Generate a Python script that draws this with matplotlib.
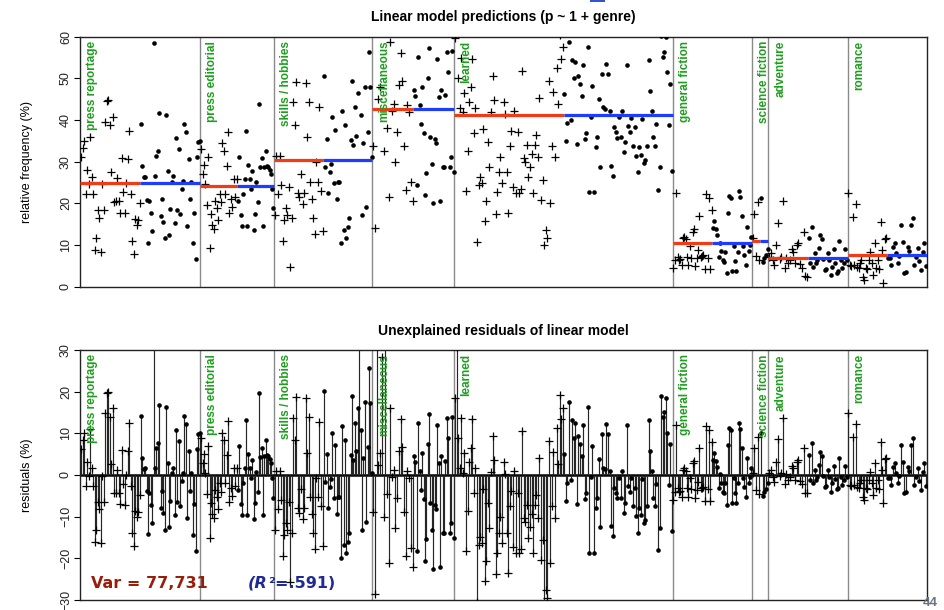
import matplotlib
matplotlib.use("Agg")
import matplotlib.pyplot as plt
from matplotlib.patches import Rectangle
import numpy as np

plt.rcParams['font.family'] = ['Liberation Sans', 'DejaVu Sans']

# ---------------- data ----------------
genres = ["press reportage", "press editorial", "skills / hobbies", "miscellaneous",
          "learned", "general fiction", "science fiction", "adventure", "romance"]
n_texts = [44, 27, 36, 30, 80, 29, 6, 29, 29]
genre_means = [24.8, 24.2, 30.4, 42.6, 41.2, 10.4, 11.0, 6.8, 7.6]

pr_plus = [31.0, 33.2, 35.0, 22.2, 28.0, 24.6, 35.8, 26.4, 22.2, 8.8, 11.6, 18.4, 16.6, 8.4,
           24.6, 18.4, 39.6, 44.6, 44.8, 38.8, 27.4, 40.8, 20.4, 20.6, 26.0, 20.5, 17.8, 30.8,
           22.6, 17.6, 24.8, 30.6, 37.4, 22.2, 11.0, 7.8, 16.2, 14.8, 16.0, 20.0]
pr_dot = [39.0, 29.0, 26.2, 26.4, 20.9, 10.6, 20.6, 17.7, 13.4, 58.5, 26.6, 31.4, 32.6, 41.6,
          17.0, 21.0, 15.6, 11.7, 41.2, 27.8, 12.4, 18.6, 25.2, 26.6, 15.3, 35.7, 18.4, 33.0,
          17.4, 23.4, 25.4, 39.0, 37.0, 14.6, 30.6, 21.0, 25.2, 10.4, 17.8, 6.6, 31.0, 34.6, 35.0]

pe_plus = [33.0, 27.0, 29.2, 24.6, 19.6, 31.2, 9.2, 17.4, 14.8, 13.8, 20.6, 19.0, 16.0, 22.2,
           20.2, 34.4, 32.6, 22.2, 29.0, 37.2, 17.8, 21.0, 19.2, 25.8, 21.6, 25.8]
pe_dot = [20.6, 31.2, 17.2, 14.6, 22.2, 25.9, 37.4, 14.6, 29.3, 25.8, 23.4, 27.8, 13.6, 17.4,
          25.0, 20.2, 43.8, 28.6, 30.8, 14.6, 28.8, 32.6, 29.0, 28.8, 28.0, 27.0, 23.4, 18.8]

sh_plus = [17.2, 31.4, 22.2, 31.4, 24.4, 11.0, 16.0, 19.0, 17.2, 24.0, 4.8, 16.4, 44.2, 38.8,
           49.2, 22.4, 21.4, 27.0, 19.8, 22.4, 48.8, 35.8, 44.4, 25.2, 21.0, 16.4, 12.6, 29.8,
           25.2, 43.2, 23.0, 13.4]
sh_dot = [50.6, 28.8, 35.4, 22.4, 27.6, 29.4, 40.6, 24.8, 37.6, 21.0, 25.2, 25.2, 10.4, 42.2,
          13.6, 38.8, 11.6, 14.4, 16.4, 35.2, 49.4, 34.0, 43.0, 36.2, 46.4, 62.0, 41.2, 17.2,
          34.4, 48.0, 19.2, 37.2, 56.2, 47.8, 31.0]

mi_plus = [33.8, 14.0, 73.5, 45.0, 47.8, 71.0, 32.6, 74.0, 38.0, 21.6, 58.8, 42.2, 43.8, 30.0,
           37.0, 48.4, 56.0, 49.4, 33.8, 23.2, 43.6, 42.0, 25.0, 20.6]
mi_dot = [47.2, 45.8, 24.4, 55.2, 43.6, 39.0, 48.0, 36.8, 22.0, 27.2, 50.0, 57.2, 36.0, 29.4,
          20.0, 35.4, 34.4, 54.6, 45.6, 20.6, 47.2, 28.8, 28.8, 46.0, 56.4, 51.4, 28.8, 31.0,
          56.6, 27.6]

le_plus = [59.6, 72.0, 50.0, 42.8, 54.8, 41.8, 46.4, 23.0, 32.6, 44.4, 47.8, 54.6, 36.8, 42.8,
           10.7, 24.4, 26.4, 24.8, 37.8, 15.8, 20.6, 34.6, 28.6, 42.0, 50.6, 44.8, 17.4, 22.6,
           27.4, 31.2, 24.9, 44.4, 41.4, 27.4, 17.6, 33.8, 37.4, 24.0, 42.2, 22.4, 37.0, 22.4,
           23.4, 51.8, 30.8, 30.0, 34.0, 26.2, 28.8, 31.8, 22.4, 34.0, 36.4, 31.0, 45.2, 20.8,
           25.6, 10.0, 13.6, 11.8, 49.4, 20.0, 33.8, 46.8, 31.0, 52.4, 43.8, 60.5, 54.6, 57.4]
le_dot = [46.2, 35.0, 39.2, 58.8, 40.0, 54.4, 50.0, 53.8, 34.2, 50.6, 48.6, 45.8, 53.2, 35.4,
          36.8, 57.6, 22.6, 40.8, 48.2, 22.6, 33.4, 35.8, 45.0, 28.8, 51.0, 43.0, 42.6, 53.4,
          51.0, 42.2, 29.0, 26.6, 38.2, 37.0, 35.6, 40.6, 35.8, 42.2, 32.2, 34.6, 53.2, 38.6,
          37.2, 40.4, 33.8, 38.2, 31.4, 27.4, 33.4, 31.6, 40.2, 29.6, 30.4, 33.8, 54.4, 47.0,
          42.2, 35.8, 33.8, 39.0, 23.2, 28.6, 60.2, 55.2, 56.4, 59.8, 51.4, 38.8, 48.6, 27.8]

gf_plus = [4.4, 6.4, 22.4, 7.2, 6.4, 6.6, 5.2, 11.6, 12.0, 11.4, 7.2, 5.2, 9.8, 7.0, 13.2, 13.8,
           5.0, 6.8, 8.8, 17.0, 7.2, 7.4, 7.6, 4.2, 22.2, 7.0, 21.2, 4.2, 18.4]
gf_dot = [14.0, 15.8, 13.8, 12.4, 7.2, 10.6, 8.6, 6.4, 6.0, 8.4, 3.2, 17.6, 21.8, 21.2, 3.8,
          9.8, 6.2, 3.8, 8.4, 23.0, 21.4, 17.0, 9.8, 7.6, 5.2, 14.4, 8.6, 10.0, 12.0]

sf_plus = [11.6, 17.4, 7.4, 20.2, 6.4]
sf_dot = [21.2, 6.0, 7.0, 7.6, 9.0]

ad_plus = [7.2, 8.0, 6.4, 5.2, 10.0, 15.4, 6.6, 7.2, 20.6, 4.6, 7.0, 5.6, 6.4, 9.0, 8.4, 5.6,
           10.0, 10.4, 5.4, 4.6, 13.2, 2.6, 2.4]
ad_dot = [11.6, 5.6, 14.4, 4.8, 8.0, 5.6, 6.4, 9.2, 12.4, 11.4, 6.6, 4.0, 4.2, 8.0, 6.4, 2.8,
          4.8, 9.0, 5.8, 3.4, 3.8, 11.0, 6.4, 4.4, 5.6, 9.0, 6.4]

ro_plus = [22.4, 5.2, 5.0, 16.8, 5.2, 19.8, 4.8, 4.6, 5.6, 6.4, 2.4, 1.6, 4.6, 4.2, 6.4, 8.4,
           5.8, 2.8, 10.4, 4.4, 6.4, 4.2, 15.6, 8.8, 0.8, 11.4, 11.8]
ro_dot = [7.0, 7.0, 5.2, 9.6, 10.4, 8.2, 5.8, 7.4, 14.8, 10.8, 3.4, 3.6, 9.6, 8.6, 14.8, 16.4,
          5.2, 7.2, 9.4, 6.2, 4.0, 8.4, 10.4, 5.0]

plus_sets = [pr_plus, pe_plus, sh_plus, mi_plus, le_plus, gf_plus, sf_plus, ad_plus, ro_plus]
dot_sets = [pr_dot, pe_dot, sh_dot, mi_dot, le_dot, gf_dot, sf_dot, ad_dot, ro_dot]

var_text = "Var = 77,731"
r2_text = ".591"

# ---------------- layout ----------------
W, H = 944, 610
fig = plt.figure(figsize=(W / 100, H / 100), dpi=100)

def px_axes(x0, y0, x1, y1):
    return fig.add_axes([x0 / W, 1 - y1 / H, (x1 - x0) / W, (y1 - y0) / H])

ax1 = px_axes(80.3, 36.6, 926.7, 286.7)
ax2 = px_axes(80.3, 350, 926.7, 600)

total = sum(n_texts)
starts = np.concatenate([[0], np.cumsum(n_texts)[:-1]])

GREEN = '#1f9e1f'
RED = '#f43a14'
BLUE = '#1d3cff'
SEP = '#8a8a8a'

plus_kw = dict(linestyle='none', marker='+', ms=6, mew=0.9, color='black', zorder=3)
dot_kw = dict(linestyle='none', marker='o', ms=3.3, mew=0, color='black', zorder=3)

for ax in (ax1, ax2):
    ax.set_xlim(0, total)
    for s in starts[1:]:
        ax.axvline(s, color=SEP, lw=1.0, zorder=1)
    ax.set_xticks([])
    for sp in ax.spines.values():
        sp.set_linewidth(1.0)
        sp.set_color('#222222')
    ax.tick_params(axis='y', direction='out', length=4, width=0.8, labelsize=9,
                   labelcolor='#222222', pad=2)
    for g, name in enumerate(genres):
        ax.annotate(name, xy=(starts[g], 1), xycoords=('data', 'axes fraction'),
                    xytext=(4.2, -3), textcoords='offset points', rotation=90,
                    ha='left', va='top', color=GREEN, fontsize=8.5, fontweight='bold',
                    zorder=5)

ax1.set_ylim(0, 60)
ax1.set_yticks([0, 10, 20, 30, 40, 50, 60])
ax2.set_ylim(-30, 30)
ax2.set_yticks([-30, -20, -10, 0, 10, 20, 30])
ax2.set_yticklabels(['\u221230', '\u221220', '\u221210', '0', '10', '20', '30'])
for ax in (ax1, ax2):
    for lab in ax.get_yticklabels():
        lab.set_rotation(90)
        lab.set_va('center')

ax2.axhline(0, color='black', lw=1.8, zorder=2)

for g in range(len(genres)):
    s, n = starts[g], n_texts[g]
    half = n / 2.0
    P, D = plus_sets[g], dot_sets[g]
    xp = s + (np.arange(len(P)) + 0.5) * half / len(P)
    xd = s + half + (np.arange(len(D)) + 0.5) * half / len(D)
    m = genre_means[g]
    # top panel
    ax1.plot(xp, P, **plus_kw)
    ax1.plot(xd, D, **dot_kw)
    ax1.plot([s, s + half], [m, m], color=RED, lw=2.3, solid_capstyle='butt', zorder=4)
    ax1.plot([s + half, s + n], [m, m], color=BLUE, lw=2.3, solid_capstyle='butt', zorder=4)
    # residuals
    rp = np.array(P) - m
    rd = np.array(D) - m
    ax2.vlines(xp, 0, rp, colors='#262626', lw=0.85, zorder=2)
    ax2.vlines(xd, 0, rd, colors='#262626', lw=0.85, zorder=2)
    ax2.plot(xp, rp, **plus_kw)
    ax2.plot(xd, rd, **dot_kw)

ax1.set_ylabel('relative frequency (%)', fontsize=9, labelpad=6)
ax2.set_ylabel('residuals (%)', fontsize=9, labelpad=6)
ax1.yaxis.set_label_coords(-0.056, 0.5)
ax2.yaxis.set_label_coords(-0.056, 0.5)

fig.text(503 / W, 1 - 17.5 / H, 'Linear model predictions (p ~ 1 + genre)', ha='center',
         va='center', fontsize=10, fontweight='bold')
fig.text(503 / W, 1 - 331 / H, 'Unexplained residuals of linear model', ha='center',
         va='center', fontsize=10, fontweight='bold')

# annotation text in the residual panel
t1 = fig.text(91 / W, 1 - 588 / H, var_text, ha='left', va='baseline', fontsize=11.5,
              fontweight='bold', color='#9a1d08', family='DejaVu Sans')
t2 = fig.text(248 / W, 1 - 588 / H, '(R', ha='left', va='baseline', fontsize=11.5,
              fontweight='bold', fontstyle='italic', color='#1e2a96', family='DejaVu Sans')
fig.canvas.draw()
bb = t2.get_window_extent()
t3 = fig.text((bb.x1 + 0.5) / W, 1 - 588 / H, '\u00b2=' + r2_text + ')', ha='left',
              va='baseline', fontsize=11.5, fontweight='bold', color='#1e2a96',
              family='DejaVu Sans')

# page number and small mark at top
fig.text(930 / W, 1 - 609.5 / H, '44', ha='center', va='bottom', fontsize=9.5,
         fontweight='bold', color='#6a7480')
fig.patches.append(Rectangle((590 / W, 1 - 2 / H), 15 / W, 2 / H, transform=fig.transFigure,
                             facecolor='#3355cc', edgecolor='none'))

fig.savefig('out.png', dpi=100)
